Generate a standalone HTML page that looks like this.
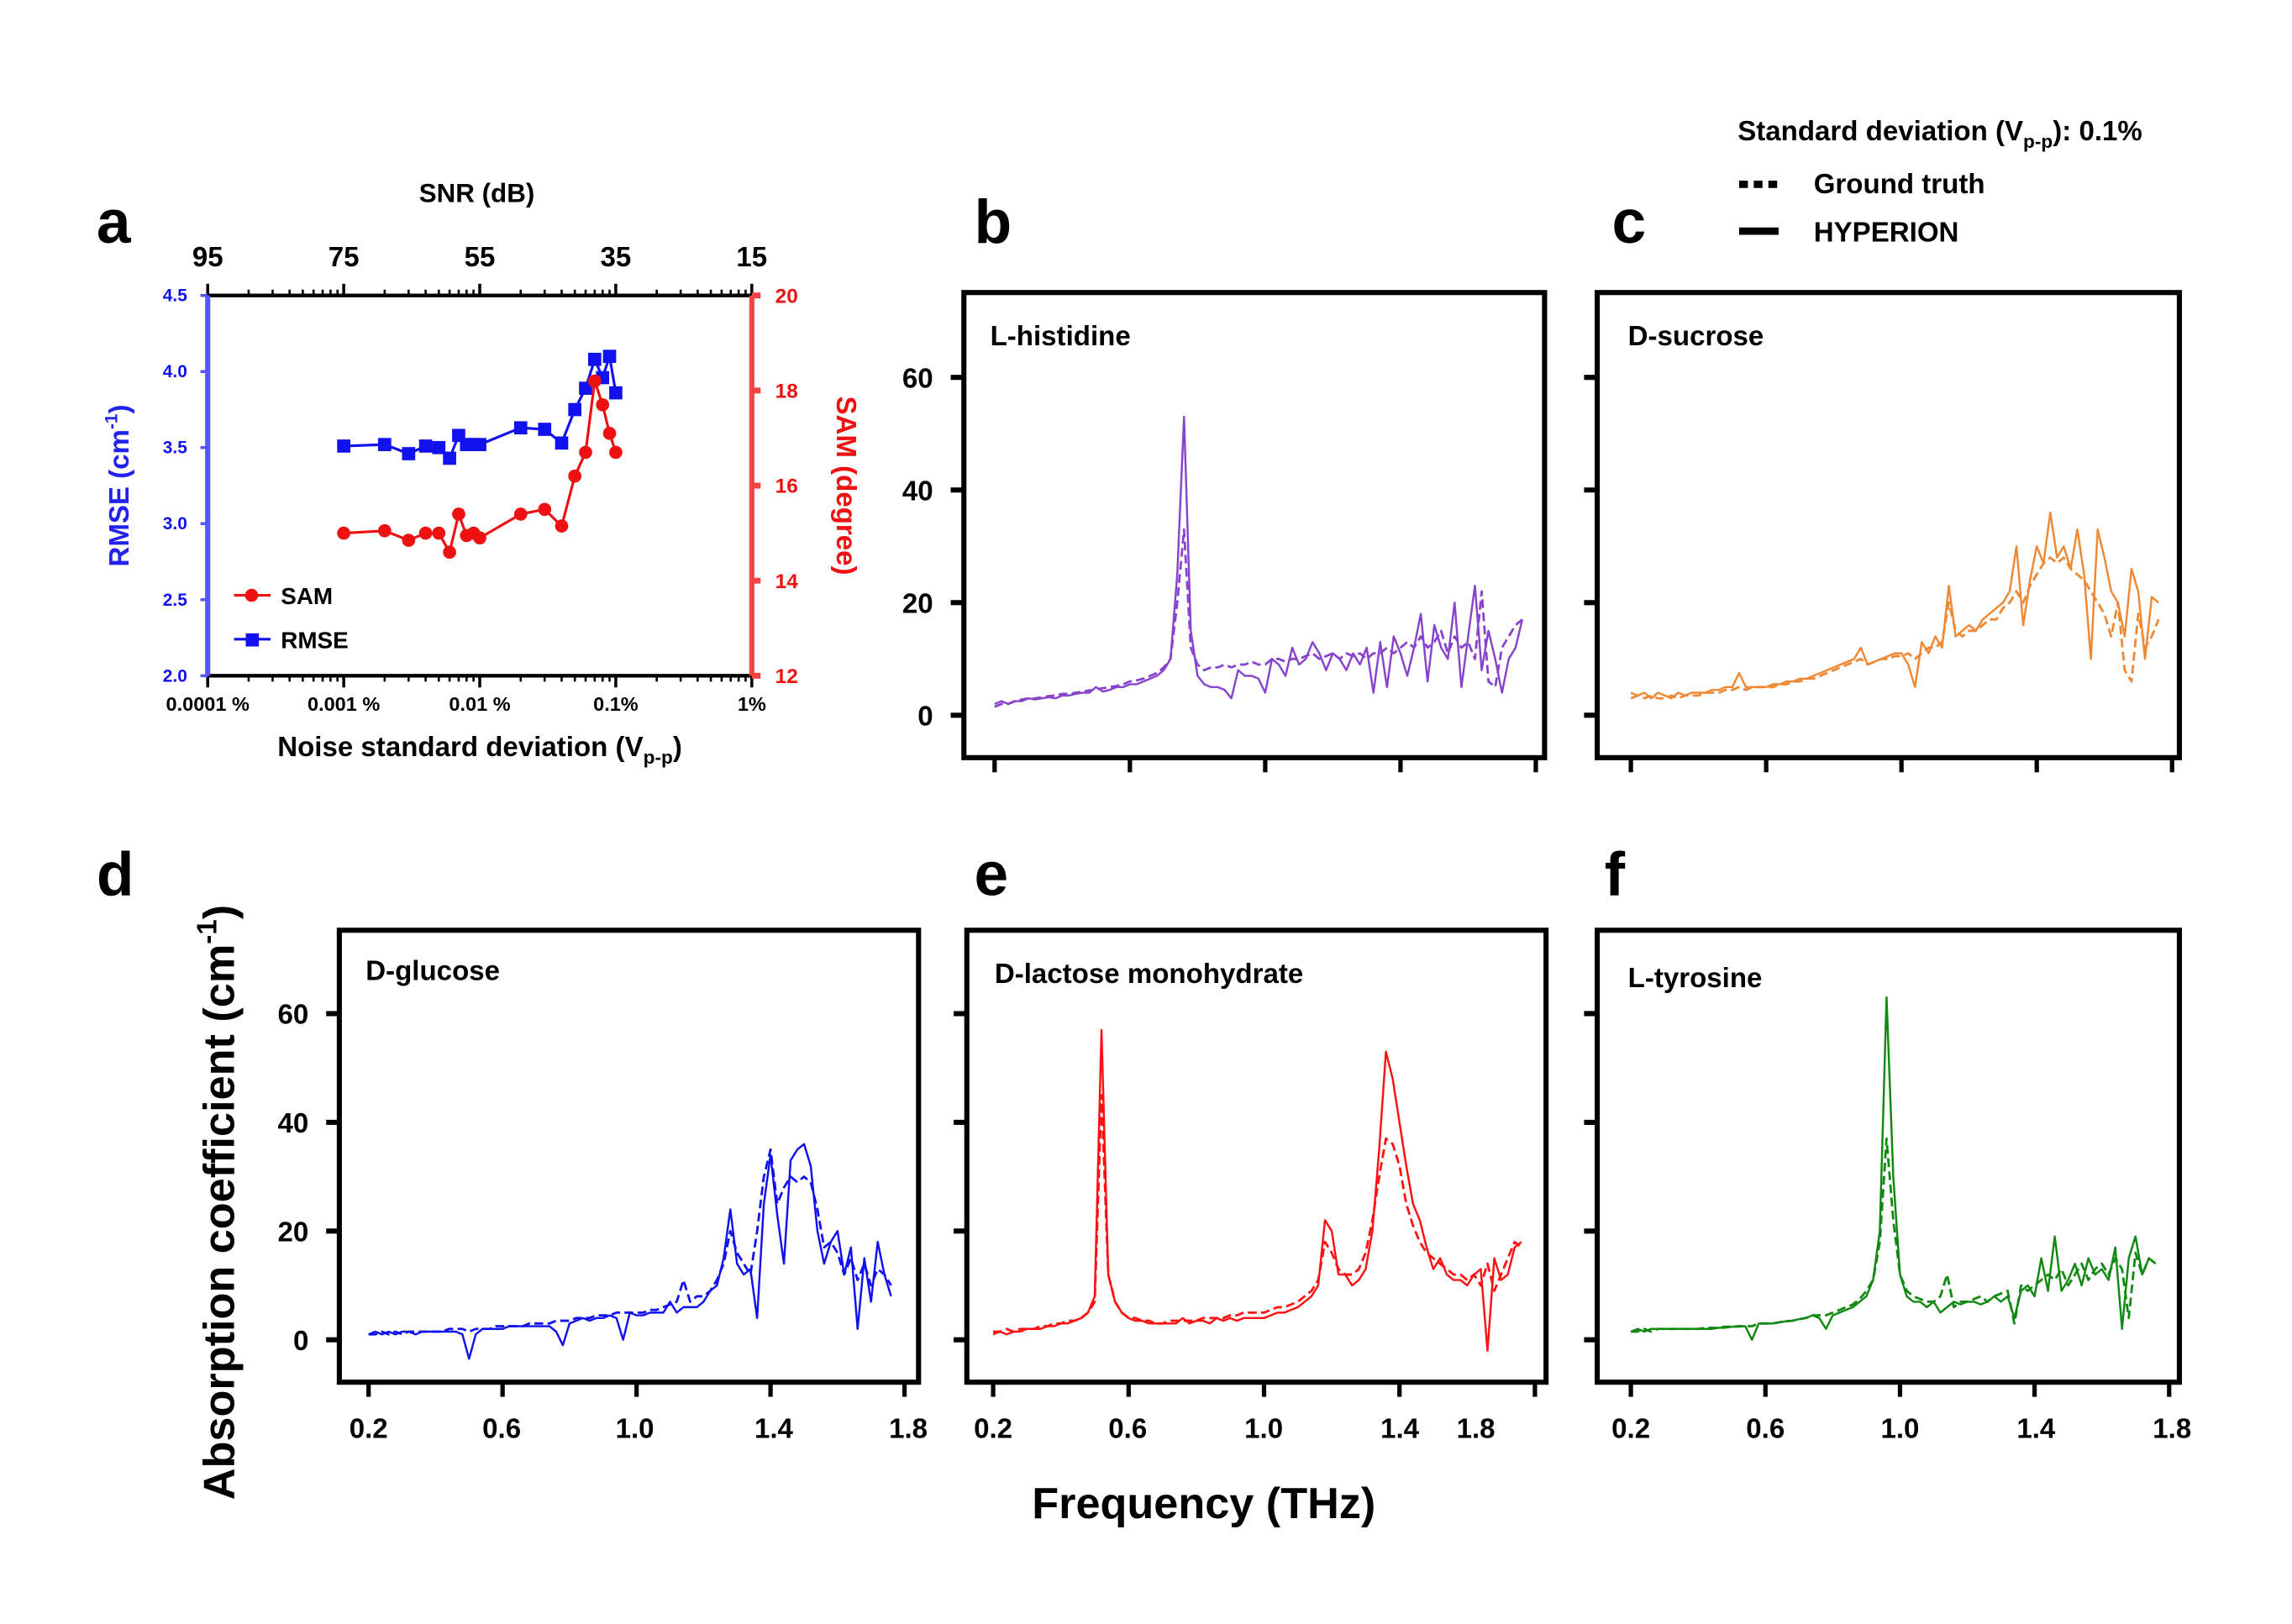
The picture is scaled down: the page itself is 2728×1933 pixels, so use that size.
<!DOCTYPE html>
<html><head><meta charset="utf-8"><style>
html,body{margin:0;padding:0;background:#fff;}
svg{display:block;font-family:"Liberation Sans",Arial,sans-serif;font-weight:bold;}
</style></head><body>
<svg id="fig" width="2728" height="1933" viewBox="0 0 1567 1110.3" xmlns="http://www.w3.org/2000/svg">
<rect width="1600" height="1120" fill="#fff"/>
<g id="pa"></g>
<g id="spec"></g>
<g>
<text x="1188" y="96" font-size="19">Standard deviation (V<tspan font-size="13" dy="5">p-p</tspan><tspan dy="-5">): 0.1%</tspan></text>
<line x1="1189" y1="126" x2="1216" y2="126" stroke="#000" stroke-width="5" stroke-dasharray="6,4"/>
<text x="1240" y="132" font-size="19">Ground truth</text>
<line x1="1189" y1="158" x2="1216" y2="158" stroke="#000" stroke-width="5"/>
<text x="1240" y="165" font-size="19">HYPERION</text>
</g>
<text x="66" y="166" font-size="42">a</text>
<text x="666" y="166" font-size="42">b</text>
<text x="1102" y="166" font-size="42">c</text>
<text x="66" y="612" font-size="42">d</text>
<text x="666" y="612" font-size="42">e</text>
<text x="1097" y="612" font-size="42">f</text>
<text x="823" y="1038" font-size="30" text-anchor="middle">Frequency (THz)</text>
<text transform="translate(160,822) rotate(-90)" font-size="30" text-anchor="middle">Absorption coefficient (cm<tspan font-size="19" dy="-12">-1</tspan><tspan dy="12">)</tspan></text>
</svg>
<script>
// ---------- Panel a data ----------
const noiseLevels = [0.001,0.002,0.003,0.004,0.005,0.006,0.007,0.008,0.009,0.01,0.02,0.03,0.04,0.05,0.06,0.07,0.08,0.09,0.1];
const rmseValues = [3.51,3.52,3.46,3.51,3.50,3.43,3.58,3.52,3.52,3.52,3.63,3.62,3.53,3.75,3.89,4.08,3.96,4.10,3.86];
const samValues = [15.0,15.05,14.85,15.0,15.0,14.6,15.4,14.95,15.0,14.9,15.4,15.5,15.15,16.2,16.7,18.2,17.7,17.1,16.7];
const rmseTicks = [2.0,2.5,3.0,3.5,4.0,4.5];
const samTicks = [12,14,16,18,20];
const decadeLabels = ["0.0001 %","0.001 %","0.01 %","0.1%","1%"];
const snrLabels = ["95","75","55","35","15"];

// ---------- Spectra data (freq 0.20..1.76 step 0.02) ----------
const histidineHyp = [2,2.5,2,2.5,2.5,3,2.8,3,3.2,3, 3.5,3.5,3.8,4,4,5,4.2,4.5,5,5, 5.5,5.5,6,6.5,7,8,10,25,53,15, 7,5.5,5,5,4.5,3,8,7,7,6.5, 4,10,9,7,12,9,10,13,11,8, 11,10,8,11,9,12,4,13,5,14, 11,7,12,18,6,16,12,10,20,5, 14,23,8,15,10,4,10,12,17];
const histidineGt = [1.5,2,2,2.5,2.8,3,3,3.2,3.4,3.5, 3.8,3.8,4,4.2,4.4,4.6,4.8,5,5.2,5.5, 6,6.2,6.5,7,7.5,8.5,10,20,33,12, 9,8,8.5,8.5,9,8.5,9,9,9.5,9, 9,10,10,9.5,10,10,10.5,11,10,10.5, 11,10,11,10.5,11,10,11,11,12,11, 12,13,12,14,12,13,15,11,14,12, 13,10,22,6,5,12,14,16,17];
const sucroseHyp = [4,3.5,4,3,4,3.5,3,4,3.5,4, 4,4,4.5,4.5,5,5,7.5,5,5,5, 5,5.5,5.5,6,6,6.5,6.5,7,7.5,8, 8.5,9,9.5,10,12,9,9.5,10,10.5,11, 11,9,5,13,11,14,12,23,14,15, 16,15,17,18,19,20,22,30,16,24, 30,27,36,28,30,26,33,25,10,33, 28,22,20,14,26,22,10,21,20];
const sucroseGt = [3,3.5,3,3.5,3,3,3.5,3,3.5,3.5, 3.5,4,4,4,4.5,4.5,5,4.5,5,5, 5,5,5.5,5.5,6,6,6.5,6.5,7,7.5, 8,8.5,9,9.5,10,9,9.5,10,10,10.5, 10.5,11,10,11,12,12,13,20,15,14, 15,15,16,17,17,19,20,22,20,23, 25,27,28,27,28,26,25,24,22,20, 18,14,20,8,6,18,12,14,17];
const glucoseHyp = [1,1.5,1,1.5,1,1.5,1.5,1,1.5,1.5, 1.5,1.5,1.5,1.5,1,-3.5,1,2,2,2, 2,2.5,2.5,2.5,2.5,2.5,2.5,2.5,1.5,-1, 3,3.5,4,3.5,4,4,4.5,4,0,5, 4.5,4.5,5,5,5,7,5,6,6,6, 7,9,10,15,24,14,12,13,4,25, 34,23,14,33,35,36,32,20,14,18, 20,12,17,2,15,7,18,12,8];
const glucoseGt = [1,1,1.5,1,1.5,1,1.5,1.5,1.5,1.5, 1.5,1.5,2,2,2,1.5,2,2,2,2.5, 2.5,2.5,2.5,2.5,3,3,3,3,3.5,3.5, 3.5,4,4,4,4.5,4.5,4.5,5,5,5, 5,5,5.5,5.5,6,6.5,7,11,7,8, 8,9,11,14,20,16,14,12,20,30, 35,25,28,30,29,30,29,24,17,18, 16,12,15,11,14,10,13,12,10];
const lactoseHyp = [1,1.5,1,1.5,1.5,2,2,2,2.5,2.5, 3,3,3.5,4,5,8,57,12,7,5, 4,3.5,3.5,3,3,3,3,3,4,3, 3.5,3.5,3,4,3.5,4,3.5,4,4,4, 4,4.5,5,5,5.5,6,7,8,10,22, 20,12,12,10,11,13,20,35,53,48, 40,32,25,22,17,13,15,12,11,11, 10,12,13,-2,15,11,12,17,18];
const lactoseGt = [1.5,1.5,2,1.5,2,2,2,2.5,2.5,3, 3,3.5,3.5,4,5,7,45,12,7,5, 4,4,3.5,3.5,3,3,3.5,3.5,3.5,3.5, 3.5,4,4,4,4,4.5,4.5,5,5,5, 5,5.5,6,6,6.5,7,8,9,11,18, 16,13,12,12,13,16,22,30,37,36, 32,25,21,18,16,15,14,13,12,12, 11,12,10,14,9,12,15,18,17];
const tyrosineHyp = [1.5,2,1.5,2,2,2,2,2,2,2, 2,2,2,2.2,2.2,2.4,2.4,2.5,0,3, 3,3,3.2,3.4,3.5,3.8,4,4.5,4,2, 4.5,5,5.5,6,7,8,11,20,63,30, 12,8,7,7,6,7,5,6,7,6.5, 7,7,6.5,7,8,7,8,4,9,10, 8,15,9,19,9,11,14,10,15,12, 13,11,17,2,15,19,12,15,14];
const tyrosineGt = [1.5,1.5,2,1.5,2,2,2,2,2,2, 2,2.2,2.2,2.2,2.4,2.4,2.5,2.5,2.5,3, 3,3,3.2,3.4,3.5,3.8,4,4.5,4.5,4.5, 5,5.5,6,6.5,7.5,9,11,18,37,22, 12,9,8,7.5,7,7,8,12,6,7, 7,7.5,8,7,8,8.5,9,3,10,9, 10,11,12,11,13,10,12,14,11,13, 14,12,15,13,4,16,12,15,14];
const freqStart = 0.2, freqStep = 0.02;
const yTicks = [0,20,40,60];
const xTickVals = [0.2,0.6,1.0,1.4,1.8];

const NS = "http://www.w3.org/2000/svg";
function mk(tag, attrs, parent){const e=document.createElementNS(NS,tag);for(const k in attrs)e.setAttribute(k,attrs[k]);parent.appendChild(e);return e;}

// ---------- Panel a ----------
const pa = document.getElementById('pa');
const aL=142,aR=514,aT=202,aB=462;
const xa = v => aL + (Math.log10(v)+4)*93;
const yR = v => aB - (v-2.0)/2.5*(aB-aT);
const yS = v => aB - (v-12)/8*(aB-aT);
let e;
e=mk('line',{x1:aL,y1:aT,x2:aR,y2:aT,stroke:'#000','stroke-width':2.5},pa);


e=mk('line',{x1:aL,y1:aB,x2:aR,y2:aB,stroke:'#000','stroke-width':2.5},pa);


for(let d=0;d<4;d++){for(let m=2;m<=9;m++){const x=aL+(d+Math.log10(m))*93;
 mk('line',{x1:x,y1:aB,x2:x,y2:aB+4,stroke:'#000','stroke-width':1.5},pa);
 mk('line',{x1:x,y1:aT,x2:x,y2:aT-4,stroke:'#000','stroke-width':1.5},pa);}}
for(let d=0;d<5;d++){const x=aL+d*93;
 mk('line',{x1:x,y1:aB,x2:x,y2:aB+8,stroke:'#000','stroke-width':2},pa);
 mk('line',{x1:x,y1:aT,x2:x,y2:aT-8,stroke:'#000','stroke-width':2},pa);
 e=mk('text',{x:x,y:aB+24,'font-size':13.5,'text-anchor':'middle'},pa);e.textContent=decadeLabels[d];
 
 
 e=mk('text',{x:x,y:aT-20,'font-size':19,'text-anchor':'middle'},pa);e.textContent=snrLabels[d];
 
 }
e=mk('line',{x1:aL,y1:aT,x2:aL,y2:aB,stroke:'#5555ff','stroke-width':3.5},pa);


e=mk('line',{x1:aR,y1:aT,x2:aR,y2:aB,stroke:'#ee4444','stroke-width':3.5},pa);


rmseTicks.forEach(v=>{const y=yR(v);mk('line',{x1:aL-5,y1:y,x2:aL,y2:y,stroke:'#5555ff','stroke-width':2},pa);
 e=mk('text',{x:aL-14,y:y+4,'font-size':12,'text-anchor':'end',fill:'#1111ee'},pa);e.textContent=v.toFixed(1);
 
 });
samTicks.forEach(v=>{const y=yS(v);mk('line',{x1:aR,y1:y,x2:aR+6,y2:y,stroke:'#ee4444','stroke-width':4},pa);
 e=mk('text',{x:aR+16,y:y+5,'font-size':14,fill:'#ee1111'},pa);e.textContent=v;
 
 });
e=mk('text',{x:326,y:138,'font-size':18,'text-anchor':'middle'},pa);e.textContent='SNR (dB)';


e=mk('text',{x:328,y:517,'font-size':19,'text-anchor':'middle'},pa);
e.innerHTML='Noise standard deviation (V<tspan font-size="13" dy="5">p-p</tspan><tspan dy="-5">)</tspan>';


e=mk('text',{transform:'translate(88,332) rotate(-90)','font-size':19,'text-anchor':'middle',fill:'#2222ee'},pa);
e.innerHTML='RMSE (cm<tspan font-size="12" dy="-8">-1</tspan><tspan dy="8">)</tspan>';


e=mk('text',{transform:'translate(572,332) rotate(90)','font-size':19,'text-anchor':'middle',fill:'#ee1111'},pa);e.textContent='SAM (degree)';


function polyPts(xs,ys,fx,fy){return xs.map((x,i)=>fx(x).toFixed(2)+','+fy(ys[i]).toFixed(2)).join(' ');}
e=mk('polyline',{points:polyPts(noiseLevels,rmseValues,xa,yR),fill:'none',stroke:'#1111ee','stroke-width':1.8},pa);


noiseLevels.forEach((v,i)=>{e=mk('rect',{x:xa(v)-4.5,y:yR(rmseValues[i])-4.5,width:9,height:9,fill:'#1111ee'},pa);
 
 });
e=mk('polyline',{points:polyPts(noiseLevels,samValues,xa,yS),fill:'none',stroke:'#ee1111','stroke-width':1.8},pa);


noiseLevels.forEach((v,i)=>{e=mk('circle',{cx:xa(v),cy:yS(samValues[i]),r:4.5,fill:'#ee1111'},pa);
 
 });
// legend a
e=mk('g',{},pa);


mk('line',{x1:160,y1:407,x2:185,y2:407,stroke:'#ee1111','stroke-width':1.8},e);
mk('circle',{cx:172,cy:407,r:4.5,fill:'#ee1111'},e);
let t=mk('text',{x:192,y:413,'font-size':16},e);t.textContent='SAM';
mk('line',{x1:160,y1:437,x2:185,y2:437,stroke:'#1111ee','stroke-width':1.8},e);
mk('rect',{x:168,y:433,width:9,height:9,fill:'#1111ee'},e);
t=mk('text',{x:192,y:443,'font-size':16},e);t.textContent='RMSE';

// ---------- Spectra panels ----------
const spec=document.getElementById('spec');
const panels=[
 {name:'histidine',title:'L-histidine',tx:677,ty:236,L:659,R:1056,T:200,B:518,y0:489,y60:258,x02:680,pxT:231.25,color:'#8844cc',hyp:histidineHyp,gt:histidineGt,yl:true,xl:false},
 {name:'sucrose',title:'D-sucrose',tx:1113,ty:236,L:1092,R:1490,T:200,B:518,y0:489,y60:258,x02:1115,pxT:231.25,color:'#ee8833',hyp:sucroseHyp,gt:sucroseGt,yl:false,xl:false},
 {name:'glucose',title:'D-glucose',tx:250,ty:670,L:232,R:628,T:636,B:945,y0:916,y60:693,x02:252,pxT:229,color:'#1111ee',hyp:glucoseHyp,gt:glucoseGt,yl:true,xl:true,xlab:[252,343,434,529,621]},
 {name:'lactose',title:'D-lactose monohydrate',tx:680,ty:672,L:661,R:1057,T:636,B:945,y0:916,y60:693,x02:679,pxT:231.5,color:'#ff1111',hyp:lactoseHyp,gt:lactoseGt,yl:false,xl:true,xlab:[679,771,864,957,1009]},
 {name:'tyrosine',title:'L-tyrosine',tx:1113,ty:675,L:1092,R:1490,T:636,B:945,y0:916,y60:693,x02:1115,pxT:230,color:'#118811',hyp:tyrosineHyp,gt:tyrosineGt,yl:false,xl:true,xlab:[1115,1207,1299,1392,1485]}
];
panels.forEach(p=>{
 const g=mk('g',{},spec);
 
 
 const fx=f=>p.x02+(f-0.2)*p.pxT;
 const fy=v=>p.y0-v*(p.y0-p.y60)/60;
 const freqs=p.hyp.map((_,i)=>freqStart+i*freqStep);
 let el=mk('rect',{x:p.L,y:p.T,width:p.R-p.L,height:p.B-p.T,fill:'none',stroke:'#000','stroke-width':3.5},g);
 
 
 yTicks.forEach(v=>{const y=fy(v);mk('line',{x1:p.L-9,y1:y,x2:p.L,y2:y,stroke:'#000','stroke-width':3.5},g);
  if(p.yl){el=mk('text',{x:p.L-21,y:y+7,'font-size':19,'text-anchor':'end'},g);el.textContent=v;
   
   }});
 xTickVals.forEach((f,i)=>{const x=fx(f);mk('line',{x1:x,y1:p.B,x2:x,y2:p.B+10,stroke:'#000','stroke-width':3},g);
  if(p.xl){el=mk('text',{x:p.xlab[i],y:p.B+38,'font-size':19,'text-anchor':'middle'},g);el.textContent=f.toFixed(1);
   
   }});
 el=mk('text',{x:p.tx,y:p.ty,'font-size':19},g);el.textContent=p.title;
 
 
 el=mk('polyline',{points:polyPts(freqs,p.gt,fx,fy),fill:'none',stroke:p.color,'stroke-width':1.6,'stroke-dasharray':'6,3','stroke-linejoin':'round'},g);
 
 
 el=mk('polyline',{points:polyPts(freqs,p.hyp,fx,fy),fill:'none',stroke:p.color,'stroke-width':1.4,'stroke-linejoin':'round'},g);
 
 
});
</script>
</body></html>
